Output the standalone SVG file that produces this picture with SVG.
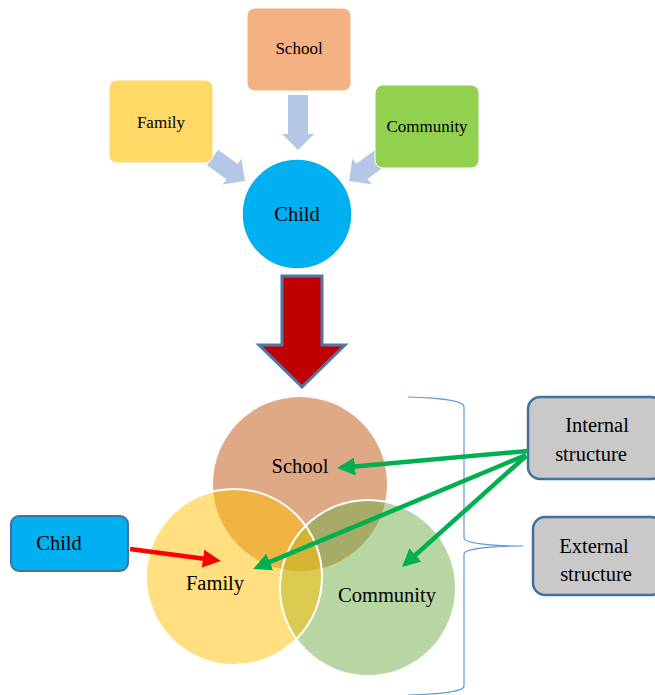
<svg xmlns="http://www.w3.org/2000/svg" width="655" height="695" viewBox="0 0 655 695">
<style>
text{font-family:"Liberation Serif","Times New Roman",serif;fill:#000;text-anchor:middle}
.t17{font-size:17px}
.t20{font-size:20.5px}
.blk{fill:#B4C7E7}
.box{stroke:#fff;stroke-width:1}
.gbox{fill:#C9C9C9;stroke:#41719C;stroke-width:2.5}
.g{stroke:#00B050;stroke-width:4.5;fill:none}
</style>
<defs>
<marker id="ga" markerUnits="userSpaceOnUse" markerWidth="22" markerHeight="20" viewBox="0 0 22 20" refX="3" refY="9" orient="auto">
<path d="M0,0 L18,9 L0,18 Z" fill="#00B050"/>
</marker>
<marker id="ra" markerUnits="userSpaceOnUse" markerWidth="22" markerHeight="20" viewBox="0 0 22 20" refX="3" refY="9" orient="auto">
<path d="M0,0 L18,9 L0,18 Z" fill="#FF0000"/>
</marker>
<path id="blk" d="M0,-9.5 L24,-9.5 L24,-16 L40,0 L24,16 L24,9.5 L0,9.5 Z"/>
</defs>
<rect width="655" height="695" fill="#fff"/>

<g id="connectors">
<polygon class="blk" points="288,95 308,95 308,134 314,134 298,150 282,134 288,134"/>
<use href="#blk" class="blk" transform="translate(212.6,157.5) rotate(36)"/>
<use href="#blk" class="blk" transform="translate(381.2,157.2) rotate(143.5)"/>
<polygon points="282,276 322,276 322,345 345,345 302,387 259,345 282,345" fill="#C00000" stroke="#5077A8" stroke-width="3"/>
</g>

<g id="top-school"><rect class="box" x="247" y="8" width="104" height="83" rx="8" fill="#F4B183"/><text class="t17" x="299" y="54">School</text></g>
<g id="top-family"><rect class="box" x="109" y="80" width="104" height="83" rx="8" fill="#FFD966"/><text class="t17" x="161" y="128">Family</text></g>
<g id="top-community"><rect class="box" x="375" y="85" width="104" height="83" rx="8" fill="#92D050"/><text class="t17" x="427" y="132">Community</text></g>
<g id="top-child"><circle cx="297" cy="214" r="55" fill="#00B0F0" stroke="#fff" stroke-width="1.5"/><text class="t20" x="297" y="221">Child</text></g>

<g id="venn">
<g id="venn-school"><circle cx="300" cy="484" r="87" fill="#E0A986"/></g>
<g id="venn-community"><circle cx="368" cy="588" r="88" fill="#70AD47" fill-opacity="0.5"/></g>
<g id="venn-family"><circle cx="234" cy="577" r="88" fill="#FFC000" fill-opacity="0.5"/></g>
<circle cx="368" cy="588" r="88" fill="none" stroke="#fff" stroke-width="2"/>
<circle cx="234" cy="577" r="88" fill="none" stroke="#fff" stroke-width="2"/>
<text class="t20" x="300" y="473">School</text>
<text class="t20" x="215" y="590">Family</text>
<text class="t20" x="387" y="602">Community</text>
</g>

<g id="brace"><path d="M408,397 C440,398 464,400 464,407 L464,538 C464,543 490,546 523,546 C490,546 464,549 464,554 L464,686 C464,692 440,694 408,695" fill="none" stroke="#5B9BD5" stroke-width="1.2"/></g>

<g id="child-box"><rect x="11" y="516" width="117" height="55" rx="8" fill="#00B0F0" stroke="#41719C" stroke-width="2"/><text class="t20" x="59" y="550">Child</text></g>
<g id="internal"><rect class="gbox" x="528" y="397" width="135" height="82" rx="12"/><text class="t20" x="597" y="432">Internal</text><text class="t20" x="591" y="461">structure</text></g>
<g id="external"><rect class="gbox" x="533" y="517" width="130" height="78" rx="12"/><text class="t20" x="594" y="553">External</text><text class="t20" x="596" y="581">structure</text></g>

<g id="arrows">
<line class="g" x1="528" y1="451" x2="352" y2="466.7" marker-end="url(#ga)"/>
<line class="g" x1="526" y1="455" x2="267" y2="563.2" marker-end="url(#ga)"/>
<line class="g" x1="526" y1="456" x2="413.2" y2="557" marker-end="url(#ga)"/>
<line x1="130" y1="549" x2="206" y2="559" stroke="#FF0000" stroke-width="4.5" marker-end="url(#ra)"/>
</g>
</svg>
